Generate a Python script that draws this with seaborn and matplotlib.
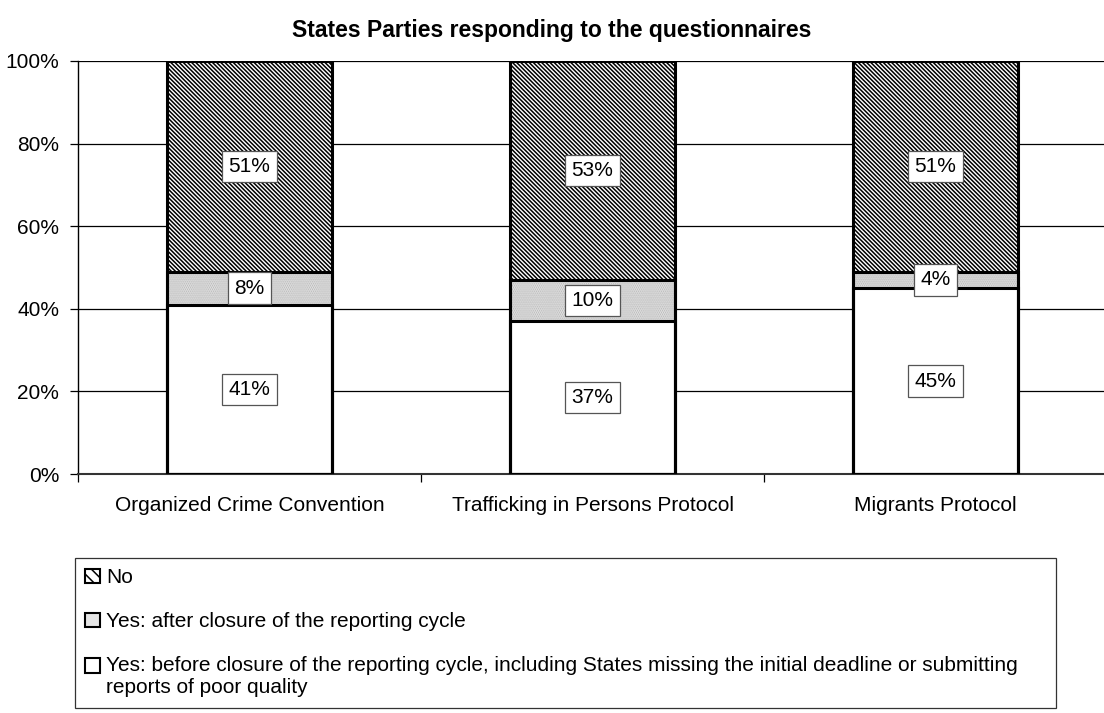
import matplotlib
matplotlib.use("Agg")
import matplotlib.pyplot as plt
from matplotlib.patches import Patch
import seaborn as sns
import pandas as pd
import numpy as np

categories = ["Organized Crime Convention", "Trafficking in Persons Protocol", "Migrants Protocol"]
yes_before = [41, 37, 45]
yes_after = [8, 10, 4]
no_resp = [51, 53, 51]
series_names = ["No", "Yes: after closure of the reporting cycle",
                "Yes: before closure of the reporting cycle, including States missing the initial deadline or submitting\nreports of poor quality"]
ytick_vals = [0, 20, 40, 60, 80, 100]
ytick_labels = ["0%", "20%", "40%", "60%", "80%", "100%"]
title = "States Parties responding to the questionnaires"

sns.set_theme(style="white")
plt.rcParams["font.family"] = ["Liberation Sans", "DejaVu Sans"]
plt.rcParams["hatch.linewidth"] = 1.1
plt.rcParams["text.color"] = "black"

FS = 15
NO_HATCH = "\\" * 8
DOT_HATCH = "." * 8
fig = plt.figure(figsize=(11.04, 7.13), dpi=100)
ax = fig.add_axes([78 / 1104, 1 - 474 / 713, 1029 / 1104, 413 / 713])

b = np.array(yes_before, dtype=float)
a = np.array(yes_after, dtype=float)
n = np.array(no_resp, dtype=float)
cum_top = b + a + n
cum_mid = b + a
cum_bot = b

layers = [
    (cum_top, "white", "black", NO_HATCH),
    (cum_mid, "#f2f2f2", "#b0b0b0", DOT_HATCH),
    (cum_bot, "white", "white", None),
]
W = 0.48
for vals, fc, hc, hatch in layers:
    df = pd.DataFrame({"cat": categories, "val": vals})
    sns.barplot(data=df, x="cat", y="val", order=categories, ax=ax, width=W,
                color=fc, edgecolor=hc, linewidth=0, hatch=hatch, saturation=1,
                errorbar=None, zorder=2)
for vals, fc, hc, hatch in layers:
    df = pd.DataFrame({"cat": categories, "val": vals})
    sns.barplot(data=df, x="cat", y="val", order=categories, ax=ax, width=W,
                fill=False, color="black", linewidth=2.2, errorbar=None, zorder=3)

# data labels
for i in range(len(categories)):
    segs = [(0, b[i]), (b[i], a[i]), (b[i] + a[i], n[i])]
    for base, v in segs:
        ax.text(i, base + v / 2, f"{int(v)}%", ha="center", va="center", fontsize=FS,
                zorder=5, color="black",
                bbox=dict(boxstyle="square,pad=0.3", facecolor="white", edgecolor="#555555", linewidth=0.9))

ax.set_xlim(-0.5, len(categories) - 0.5)
ax.set_ylim(0, 100)
ax.set_yticks(ytick_vals)
ax.set_yticklabels(ytick_labels)
ax.set_xticks(np.arange(len(categories)) - 0.5, minor=True)
ax.set_xlabel("")
ax.set_ylabel("")
ax.yaxis.grid(True, color="black", linewidth=0.9, zorder=0)
ax.set_axisbelow(True)
for s in ["top", "right"]:
    ax.spines[s].set_visible(False)
ax.spines["bottom"].set_color("#333333")
ax.spines["bottom"].set_linewidth(1.5)
ax.spines["left"].set_color("black")
ax.spines["left"].set_linewidth(1.0)
ax.tick_params(axis="y", which="major", left=True, length=6, width=0.9, color="black",
               labelsize=FS, pad=7.5, labelcolor="black")
ax.tick_params(axis="x", which="major", length=0, labelsize=FS, pad=16, labelcolor="black")
ax.tick_params(axis="x", which="minor", bottom=True, length=6, width=0.9, color="black")

fig.text(0.5, 1 - 30 / 713, title, ha="center", va="center", fontsize=16.5,
         fontweight="bold", color="black")

handles = [
    Patch(facecolor="white", edgecolor="black", hatch="\\\\\\", linewidth=1.5),
    Patch(facecolor="#e6e6e6", edgecolor="black", linewidth=1.5),
    Patch(facecolor="white", edgecolor="black", linewidth=1.5),
]
leg = fig.legend(handles, series_names, loc="upper left",
                 bbox_to_anchor=(75 / 1104, 0, 981 / 1104, 1 - 558 / 713),
                 mode="expand", borderaxespad=0, fontsize=FS, frameon=True, fancybox=False,
                 edgecolor="black", handlelength=0.7, handleheight=0.7, handletextpad=0.3,
                 labelspacing=1.2, borderpad=0.5)
leg.get_frame().set_linewidth(0.9)
for t in leg.get_texts():
    t.set_color("black")
# align the two-line entry's marker with its first line
h3 = leg.legend_handles[2]
h3.set_y(h3.get_y() + 8.5)

fig.savefig("out.png", dpi=100)
